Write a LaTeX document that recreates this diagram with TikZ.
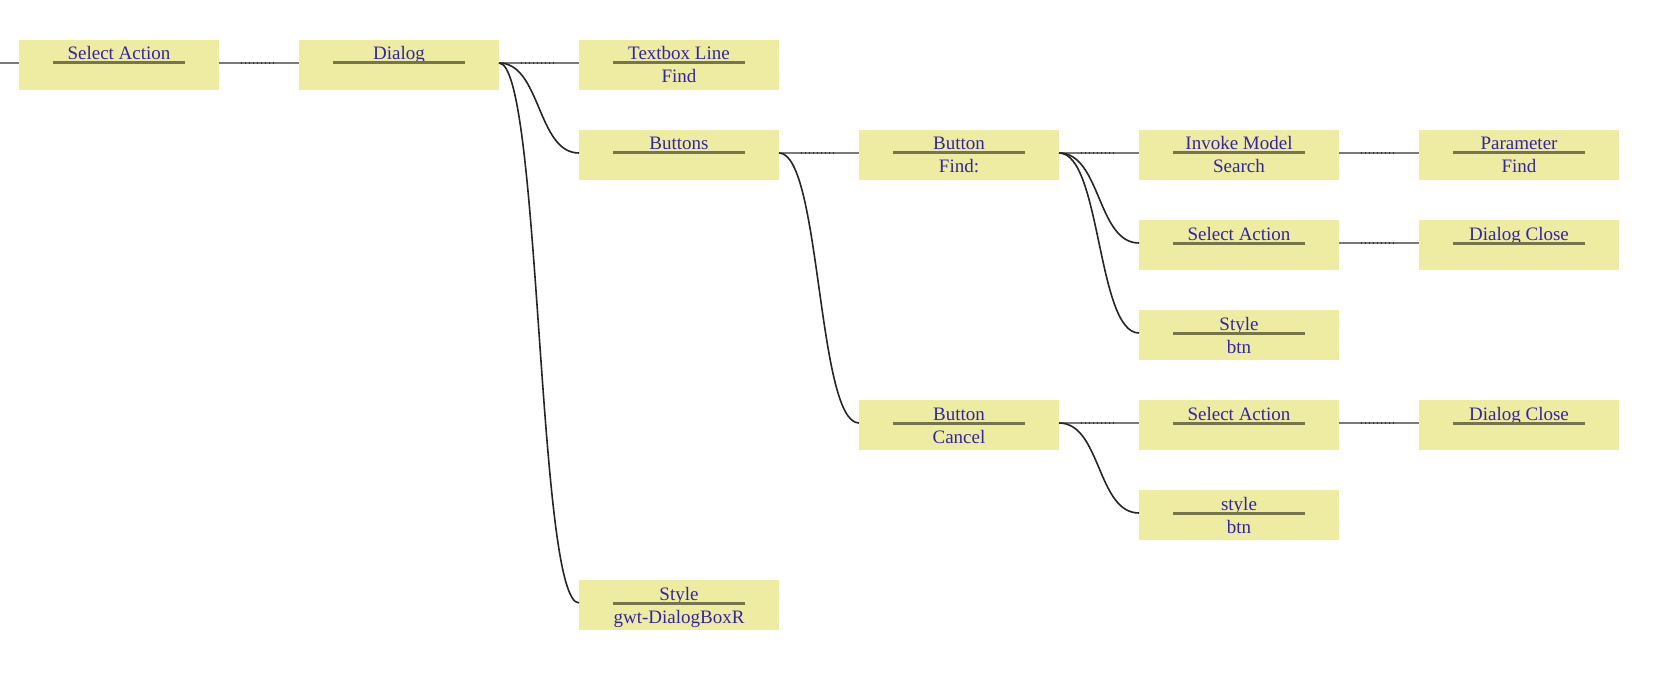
\documentclass[tikz,border=0pt]{standalone}
\usepackage{fontspec}
\setmainfont{Liberation Serif}
\usetikzlibrary{calc}
\definecolor{boxfill}{HTML}{EEEBA3}
\definecolor{txtcol}{HTML}{3326A0}
\definecolor{rulecol}{HTML}{75744A}
\definecolor{hlinecol}{HTML}{7A7A7A}
\definecolor{curvecol}{HTML}{262626}
\tikzset{
 nbox/.style={fill=boxfill, draw=none, minimum width=200pt, minimum height=50pt, inner sep=0pt, anchor=north west},
 lbl/.style={text=txtcol, font=\fontsize{19}{22}\selectfont, inner sep=0pt, anchor=base},
 rulel/.style={draw=rulecol, line width=3pt},
 hconnline/.style={draw=hlinecol, line width=2.2pt},
 dotseg/.style={draw=black!80, line width=1.4pt, dash pattern=on 1.5pt off 2.5pt},
 curveline/.style={draw=curvecol, line width=1.6pt},
}
\newcommand\mkbox[5]{%
 \node[nbox] (#1) at (#2,#3) {};
 \node[lbl] (#1-a) at ({#2+100},{#3+20}) {#4};
 \node[lbl] (#1-b) at ({#2+100},{#3+43}) {#5};
 \draw[rulel] ({#2+34},{#3+23}) -- ({#2+166},{#3+23});
 \coordinate (#1-in) at (#2,{#3+23});
 \coordinate (#1-out) at ({#2+200},{#3+23});
}
\newcommand\hconn[2]{%
 \draw[hconnline] (#1-out) -- (#2-in);
 \draw[dotseg] ($(#1-out)!0.27!(#2-in)$) -- ($(#1-out)!0.72!(#2-in)$);
}
\newcommand\cconn[2]{%
 \draw[curveline] (#1-out) .. controls ($(#1-out)+(42,0)$) and ($(#2-in)+(-42,0)$) .. (#2-in);
}
\begin{document}
\begin{tikzpicture}[x=1pt,y=-1pt]
\useasboundingbox (0,0) rectangle (1653,687);
\fill[white] (0,0) rectangle (1653,687);
\mkbox{sa}{19}{40}{Select Action}{}
\mkbox{dlg}{299}{40}{Dialog}{}
\mkbox{tb}{579}{40}{Textbox Line}{Find}
\mkbox{btns}{579}{130}{Buttons}{}
\mkbox{stg}{579}{580}{Style}{gwt-DialogBoxR}
\mkbox{bf}{859}{130}{Button}{Find:}
\mkbox{bc}{859}{400}{Button}{Cancel}
\mkbox{im}{1139}{130}{Invoke Model}{Search}
\mkbox{saf}{1139}{220}{Select Action}{}
\mkbox{stf}{1139}{310}{Style}{btn}
\mkbox{sac}{1139}{400}{Select Action}{}
\mkbox{stc}{1139}{490}{style}{btn}
\mkbox{par}{1419}{130}{Parameter}{Find}
\mkbox{dcf}{1419}{220}{Dialog Close}{}
\mkbox{dcc}{1419}{400}{Dialog Close}{}
\coordinate (start) at (0,63);
\draw[hconnline] (start) -- (sa-in);
\hconn{sa}{dlg}
\hconn{dlg}{tb}
\cconn{dlg}{btns}
\cconn{dlg}{stg}
\hconn{btns}{bf}
\cconn{btns}{bc}
\hconn{bf}{im}
\cconn{bf}{saf}
\cconn{bf}{stf}
\hconn{im}{par}
\hconn{saf}{dcf}
\hconn{bc}{sac}
\cconn{bc}{stc}
\hconn{sac}{dcc}
\end{tikzpicture}
\end{document}
